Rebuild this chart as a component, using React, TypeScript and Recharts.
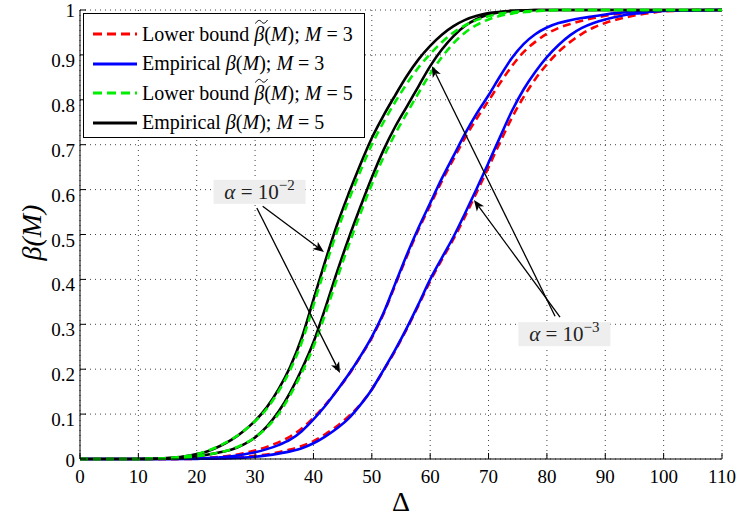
import { LineChart, Line, XAxis, YAxis, CartesianGrid, Legend, ReferenceLine, ReferenceDot } from 'recharts';

const SERIF = "'Liberation Serif', 'Times New Roman', serif";

// Delta grid shared by every curve
const delta = [0, 10, 12, 14, 16, 18, 20, 22, 24, 26, 28, 30, 32, 34, 36, 38, 40, 42, 44, 46, 48, 50, 52, 54, 56, 58, 60, 62, 64, 66, 68, 70, 72, 74, 76, 78, 80, 82, 84, 86, 88, 90, 92, 94, 96, 98, 100, 110];

// M = 3
const lowerM3a = [0, 0, 0, 0, 0.0003, 0.0007, 0.0015, 0.003, 0.005, 0.008, 0.013, 0.019, 0.027, 0.037, 0.05, 0.068, 0.092, 0.12, 0.152, 0.187, 0.227, 0.27, 0.323, 0.387, 0.451, 0.511, 0.565, 0.619, 0.668, 0.716, 0.759, 0.798, 0.838, 0.875, 0.906, 0.929, 0.947, 0.96, 0.969, 0.976, 0.982, 0.987, 0.991, 0.994, 0.996, 0.998, 0.999, 1];
const empM3a = [0, 0, 0, 0, 0.0002, 0.0005, 0.001, 0.002, 0.004, 0.006, 0.01, 0.015, 0.022, 0.031, 0.043, 0.062, 0.088, 0.118, 0.152, 0.188, 0.228, 0.272, 0.325, 0.39, 0.455, 0.515, 0.57, 0.625, 0.675, 0.725, 0.77, 0.81, 0.853, 0.893, 0.924, 0.946, 0.961, 0.971, 0.977, 0.982, 0.986, 0.99, 0.993, 0.995, 0.997, 0.998, 0.999, 1];
const lowerM3b = [0, 0, 0, 0, 0, 0, 0.0005, 0.001, 0.0017, 0.003, 0.0045, 0.007, 0.01, 0.015, 0.021, 0.029, 0.04, 0.055, 0.073, 0.095, 0.121, 0.155, 0.197, 0.241, 0.29, 0.342, 0.396, 0.444, 0.49, 0.541, 0.595, 0.65, 0.706, 0.76, 0.806, 0.846, 0.879, 0.907, 0.929, 0.947, 0.961, 0.971, 0.979, 0.985, 0.99, 0.994, 0.997, 1];
const empM3b = [0, 0, 0, 0, 0, 0, 0.0003, 0.0006, 0.001, 0.002, 0.003, 0.005, 0.008, 0.012, 0.017, 0.024, 0.035, 0.05, 0.068, 0.09, 0.12, 0.155, 0.198, 0.243, 0.292, 0.345, 0.4, 0.448, 0.495, 0.548, 0.603, 0.66, 0.718, 0.775, 0.823, 0.862, 0.895, 0.922, 0.944, 0.96, 0.971, 0.979, 0.985, 0.99, 0.993, 0.996, 0.998, 1];

// M = 5
const lowerM5a = [0, 0, 0.0005, 0.001, 0.003, 0.006, 0.011, 0.019, 0.03, 0.044, 0.062, 0.084, 0.112, 0.15, 0.198, 0.26, 0.342, 0.426, 0.505, 0.575, 0.64, 0.7, 0.75, 0.795, 0.836, 0.872, 0.902, 0.928, 0.95, 0.966, 0.978, 0.986, 0.992, 0.995, 0.997, 0.998, 0.999, 1, 1, 1, 1, 1, 1, 1, 1, 1, 1, 1];
const empM5a = [0, 0, 0.0005, 0.001, 0.003, 0.006, 0.011, 0.018, 0.029, 0.043, 0.062, 0.085, 0.115, 0.155, 0.205, 0.27, 0.355, 0.44, 0.52, 0.59, 0.655, 0.715, 0.765, 0.81, 0.853, 0.89, 0.92, 0.945, 0.964, 0.978, 0.987, 0.993, 0.996, 0.998, 0.999, 1, 1, 1, 1, 1, 1, 1, 1, 1, 1, 1, 1, 1];
const lowerM5b = [0, 0, 0.0003, 0.0007, 0.0015, 0.003, 0.006, 0.01, 0.015, 0.022, 0.033, 0.048, 0.07, 0.1, 0.142, 0.192, 0.25, 0.322, 0.4, 0.475, 0.545, 0.612, 0.672, 0.724, 0.77, 0.815, 0.858, 0.895, 0.926, 0.95, 0.967, 0.979, 0.987, 0.992, 0.995, 0.997, 0.999, 1, 1, 1, 1, 1, 1, 1, 1, 1, 1, 1];
const empM5b = [0, 0, 0.0003, 0.0007, 0.0015, 0.003, 0.006, 0.01, 0.015, 0.021, 0.032, 0.048, 0.072, 0.105, 0.148, 0.2, 0.26, 0.335, 0.415, 0.49, 0.56, 0.627, 0.688, 0.74, 0.785, 0.83, 0.875, 0.912, 0.942, 0.965, 0.98, 0.99, 0.995, 0.998, 0.999, 1, 1, 1, 1, 1, 1, 1, 1, 1, 1, 1, 1, 1];

const xTicks = [0, 10, 20, 30, 40, 50, 60, 70, 80, 90, 100, 110];
const yTicks = [0, 0.1, 0.2, 0.3, 0.4, 0.5, 0.6, 0.7, 0.8, 0.9, 1];

const rows = delta.map((d, i) => ({
  d,
  lowerM3a: lowerM3a[i],
  empM3a: empM3a[i],
  lowerM3b: lowerM3b[i],
  empM3b: empM3b[i],
  lowerM5a: lowerM5a[i],
  empM5a: empM5a[i],
  lowerM5b: lowerM5b[i],
  empM5b: empM5b[i],
}));

const legendItems = [
  { color: '#ff0000', dash: '9 5', tilde: true, m: 3 },
  { color: '#0000ff', dash: undefined, tilde: false, m: 3 },
  { color: '#00ee00', dash: '9 5', tilde: true, m: 5 },
  { color: '#000000', dash: undefined, tilde: false, m: 5 },
];

const txt = { fontFamily: SERIF };

const XTick = ({ x, y, payload }: any) => (
  <g>
    <line x1={x} y1={y} x2={x} y2={y - 6} stroke="#000" />
    <text x={x} y={y + 24} textAnchor="middle" fontSize={19} style={txt} fill="#000">
      {payload.value}
    </text>
  </g>
);

const YTick = ({ x, y, payload }: any) => {
  const off = payload.value === 1 ? 7 : payload.value === 0 ? 8 : 12;
  return (
    <g>
      <line x1={x} y1={y} x2={x + 6} y2={y} stroke="#000" />
      <text x={x - 5} y={y + off} textAnchor="end" fontSize={19} style={txt} fill="#000">
        {payload.value}
      </text>
    </g>
  );
};

const TopTick = ({ x, y }: any) => <line x1={x} y1={y} x2={x} y2={y + 6} stroke="#000" />;
const RightTick = ({ x, y }: any) => <line x1={x} y1={y} x2={x - 6} y2={y} stroke="#000" />;

const Arrow = (props: any) => {
  const { x1, y1, x2, y2 } = props;
  const a = Math.atan2(y2 - y1, x2 - x1);
  const c = Math.cos(a);
  const s = Math.sin(a);
  const L = 11;
  const W = 4.5;
  const bx = x2 - L * c;
  const by = y2 - L * s;
  const nx = x2 - L * 0.75 * c;
  const ny = y2 - L * 0.75 * s;
  const pts = `${x2},${y2} ${bx + W * s},${by - W * c} ${nx},${ny} ${bx - W * s},${by + W * c}`;
  return (
    <g>
      <line x1={x1} y1={y1} x2={nx} y2={ny} stroke="#000" strokeWidth={1.3} />
      <polygon points={pts} fill="#000" />
    </g>
  );
};

const alphaBox = (exp: string) => (props: any) => {
  const { cx, cy } = props;
  return (
    <g>
      <rect x={cx - 46} y={cy - 12} width={92} height={24} fill="#eeeeee" />
      <text x={cx} y={cy + 7} textAnchor="middle" fontSize={21} style={txt} fill="#222">
        <tspan fontStyle="italic">α</tspan> = 10<tspan dy={-9} fontSize={15}>{exp}</tspan>
      </text>
    </g>
  );
};

const Beta = ({ tilde }: { tilde: boolean }) => (
  <span style={{ position: 'relative', display: 'inline-block' }}>
    <i>β</i>
    {tilde && (
      <svg width={13} height={6} style={{ position: 'absolute', left: 1, top: -4 }}>
        <path d="M0.5,4.5 C3,0.5 5,0.8 6.5,2.8 C8,4.8 10,5 12.5,1" stroke="#000" strokeWidth={1} fill="none" />
      </svg>
    )}
  </span>
);

const LegendBox = () => (
  <div
    style={{
      width: 282,
      height: 125,
      border: '1px solid #000',
      background: '#fff',
      fontFamily: SERIF,
      fontSize: 20,
      position: 'relative',
      boxSizing: 'border-box',
    }}
  >
    {legendItems.map((it, i) => (
      <div key={i} style={{ position: 'absolute', left: 0, top: 8 + i * 29.5, height: 24, display: 'flex', alignItems: 'center', whiteSpace: 'nowrap' }}>
        <svg width={58} height={24}>
          <line x1={9} y1={12} x2={53} y2={12} stroke={it.color} strokeWidth={3} strokeDasharray={it.dash} />
        </svg>
        <span>
          {it.tilde ? 'Lower bound ' : 'Empirical '}
          <Beta tilde={it.tilde} />(<i>M</i>); <i>M</i> = {it.m}
        </span>
      </div>
    ))}
  </div>
);

const YLabel = ({ viewBox }: any) => {
  const cx = viewBox.x + 31;
  const cy = viewBox.y + viewBox.height / 2 - 2;
  return (
    <text x={cx} y={cy} transform={`rotate(-90 ${cx} ${cy})`} textAnchor="middle" dominantBaseline="central" fontSize={28} fontStyle="italic" style={txt} fill="#000">
      β(M)
    </text>
  );
};

const XLabel = ({ viewBox }: any) => (
  <text x={viewBox.x + viewBox.width / 2} y={viewBox.y + 52} textAnchor="middle" fontSize={28} style={txt} fill="#000">
    Δ
  </text>
);

export default function App() {
  return (
    <div style={{ position: 'absolute', left: 0, top: 0, width: 739, height: 518, background: '#fff' }}>
      <LineChart width={739} height={518} data={rows} margin={{ top: 10, right: 17, bottom: 0, left: 0 }}>
        <CartesianGrid stroke="#444" strokeDasharray="1 4" />
        <XAxis
          dataKey="d"
          type="number"
          domain={[0, 110]}
          ticks={xTicks}
          interval={0}
          height={59}
          tickLine={false}
          tickSize={0}
          tickMargin={0}
          tick={<XTick />}
          axisLine={{ stroke: '#000' }}
          label={XLabel}
        />
        <YAxis
          type="number"
          domain={[0, 1]}
          ticks={yTicks}
          interval={0}
          width={80}
          tickLine={false}
          tickSize={0}
          tickMargin={0}
          tick={<YTick />}
          axisLine={{ stroke: '#000' }}
          label={YLabel}
        />
        <XAxis
          xAxisId="top"
          orientation="top"
          type="number"
          domain={[0, 110]}
          allowDataOverflow
          ticks={xTicks}
          interval={0}
          height={0}
          tickLine={false}
          tickSize={0}
          tickMargin={0}
          tick={<TopTick />}
          axisLine={{ stroke: '#000' }}
        />
        <YAxis
          yAxisId="right"
          orientation="right"
          type="number"
          domain={[0, 1]}
          allowDataOverflow
          ticks={yTicks}
          interval={0}
          width={0}
          tickLine={false}
          tickSize={0}
          tickMargin={0}
          tick={<RightTick />}
          axisLine={{ stroke: '#000' }}
        />
        <Legend verticalAlign="middle" align="center" content={<LegendBox />} wrapperStyle={{ left: 83, top: 13, width: 282, height: 125 }} />

        <Line dataKey="lowerM3a" type="monotone" stroke="#ff0000" strokeWidth={2.6} strokeDasharray="8 5" dot={false} isAnimationActive={false} />
        <Line dataKey="lowerM3b" type="monotone" stroke="#ff0000" strokeWidth={2.6} strokeDasharray="8 5" dot={false} isAnimationActive={false} />
        <Line dataKey="empM3a" type="monotone" stroke="#0000ff" strokeWidth={2.6} dot={false} isAnimationActive={false} />
        <Line dataKey="empM3b" type="monotone" stroke="#0000ff" strokeWidth={2.6} dot={false} isAnimationActive={false} />
        <Line dataKey="empM5a" type="monotone" stroke="#000000" strokeWidth={2.6} dot={false} isAnimationActive={false} />
        <Line dataKey="empM5b" type="monotone" stroke="#000000" strokeWidth={2.6} dot={false} isAnimationActive={false} />
        <Line dataKey="lowerM5a" type="monotone" stroke="#00ee00" strokeWidth={2.6} strokeDasharray="8 5" dot={false} isAnimationActive={false} />
        <Line dataKey="lowerM5b" type="monotone" stroke="#00ee00" strokeWidth={2.6} strokeDasharray="8 5" dot={false} isAnimationActive={false} />

        <ReferenceLine segment={[{ x: 31.3, y: 0.563 }, { x: 41.8, y: 0.461 }]} shape={Arrow} />
        <ReferenceLine segment={[{ x: 30.3, y: 0.559 }, { x: 44.55, y: 0.1915 }]} shape={Arrow} />
        <ReferenceLine segment={[{ x: 81.4, y: 0.318 }, { x: 60.3, y: 0.875 }]} shape={Arrow} />
        <ReferenceLine segment={[{ x: 82.25, y: 0.316 }, { x: 67.5, y: 0.577 }]} shape={Arrow} />
        <ReferenceDot x={30.76} y={0.595} r={0} shape={alphaBox('−2')} />
        <ReferenceDot x={83.0} y={0.278} r={0} shape={alphaBox('−3')} />
      </LineChart>
    </div>
  );
}
